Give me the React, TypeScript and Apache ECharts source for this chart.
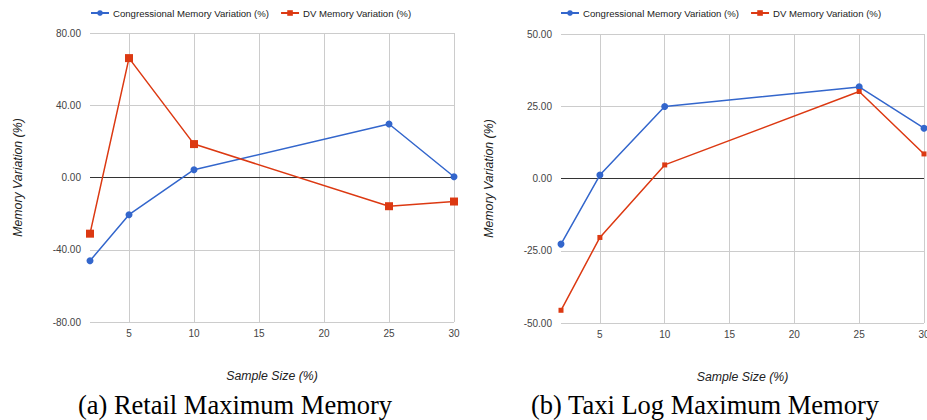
import React, { useEffect, useRef } from "react";
import * as echarts from "echarts";

const sampleSizes = [2, 5, 10, 25, 30];
const xTickValues = [5, 10, 15, 20, 25, 30];

const retailCongressional = [-46.1, -20.6, 4.3, 29.6, 0.4];
const retailDV = [-31.1, 66.1, 18.5, -15.9, -13.3];

const taxiCongressional = [-22.7, 1.2, 24.9, 31.7, 17.4];
const taxiDV = [-45.6, -20.4, 4.7, 30.1, 8.5];

const seriesNames = ["Congressional Memory Variation (%)", "DV Memory Variation (%)"];
const captions = ["(a) Retail Maximum Memory", "(b) Taxi Log Maximum Memory"];
const xAxisTitle = "Sample Size (%)";
const yAxisTitle = "Memory Variation (%)";

const BLUE = "#3366cc";
const RED = "#dc3912";
const FONT = "Liberation Sans, Arial, sans-serif";

function pairs(ys: number[]) {
  return sampleSizes.map((x, i) => [x, ys[i]]);
}

export default function App() {
  const ref = useRef<HTMLDivElement>(null);
  useEffect(() => {
    if (!ref.current) return;
    const chart = echarts.init(ref.current, null, { renderer: "svg" });
    const xAxisCommon = (gridIndex: number) => ({
      type: "value",
      gridIndex,
      min: 2,
      max: 30,
      name: xAxisTitle,
      nameLocation: "middle",
      nameGap: 48,
      nameTextStyle: { fontFamily: FONT, fontStyle: "italic", fontSize: 12.3, color: "#222" },
      axisLine: { show: false },
      axisTick: { show: false, customValues: xTickValues },
      axisLabel: { customValues: xTickValues, fontFamily: FONT, fontSize: 10, color: "#444", margin: 6 },
      splitLine: { show: true, lineStyle: { color: "#cccccc", width: 1 } },
    });
    const yAxisCommon = (gridIndex: number, min: number, max: number, interval: number) => ({
      type: "value",
      gridIndex,
      min,
      max,
      interval,
      name: yAxisTitle,
      nameLocation: "middle",
      nameRotate: 90,
      nameGap: 66,
      nameTextStyle: { fontFamily: FONT, fontStyle: "italic", fontSize: 12.3, color: "#222" },
      axisLine: { show: false },
      axisTick: { show: false },
      axisLabel: {
        fontFamily: FONT,
        fontSize: 10,
        color: "#444",
        margin: 9,
        formatter: (v: number) => v.toFixed(2),
      },
      splitLine: { show: true, lineStyle: { color: "#cccccc", width: 1 } },
    });
    const lineSeries = (
      name: string,
      data: number[],
      idx: number,
      color: string,
      symbol: string,
      size: number,
      zero: boolean
    ) => ({
      type: "line",
      name,
      xAxisIndex: idx,
      yAxisIndex: idx,
      data: pairs(data),
      symbol,
      symbolSize: size,
      showSymbol: true,
      color,
      lineStyle: { color, width: 1.5 },
      itemStyle: { color },
      z: 3,
      markLine: zero
        ? {
            silent: true,
            symbol: "none",
            label: { show: false },
            lineStyle: { color: "#333333", type: "solid", width: 1 },
            data: [{ yAxis: 0 }],
            z: 2,
          }
        : undefined,
    });
    const legendCommon = {
      top: 8,
      padding: 0,
      itemWidth: 18,
      itemHeight: 7,
      itemGap: 11,
      textStyle: { fontFamily: FONT, fontSize: 9.6, color: "#222", padding: [0, 0, 0, -1] },
      data: seriesNames,
    };
    chart.setOption({
      animation: false,
      backgroundColor: "#ffffff",
      grid: [
        { left: 90, right: 473, top: 33, bottom: 98, outerBoundsMode: "none", containLabel: false },
        { left: 561, right: 3, top: 34, bottom: 97, outerBoundsMode: "none", containLabel: false },
      ],
      legend: [
        { ...legendCommon, left: 90 },
        { ...legendCommon, left: 560 },
      ],
      xAxis: [xAxisCommon(0), xAxisCommon(1)],
      yAxis: [yAxisCommon(0, -80, 80, 40), yAxisCommon(1, -50, 50, 25)],
      series: [
        lineSeries(seriesNames[0], retailCongressional, 0, BLUE, "circle", 7, true),
        lineSeries(seriesNames[1], retailDV, 0, RED, "rect", 8, false),
        lineSeries(seriesNames[0], taxiCongressional, 1, BLUE, "circle", 7, true),
        lineSeries(seriesNames[1], taxiDV, 1, RED, "rect", 5, false),
      ],
      graphic: [
        {
          type: "text",
          x: 235,
          y: 405,
          style: {
            text: captions[0],
            fontFamily: "Liberation Serif, serif",
            fontSize: 26.5,
            fill: "#000",
            align: "center",
            verticalAlign: "middle",
          },
        },
        {
          type: "text",
          x: 705,
          y: 405,
          style: {
            text: captions[1],
            fontFamily: "Liberation Serif, serif",
            fontSize: 26.5,
            fill: "#000",
            align: "center",
            verticalAlign: "middle",
          },
        },
      ],
    });
    return () => chart.dispose();
  }, []);
  return (
    <div
      ref={ref}
      style={{ position: "fixed", left: 0, top: 0, width: 927, height: 420 }}
    />
  );
}
